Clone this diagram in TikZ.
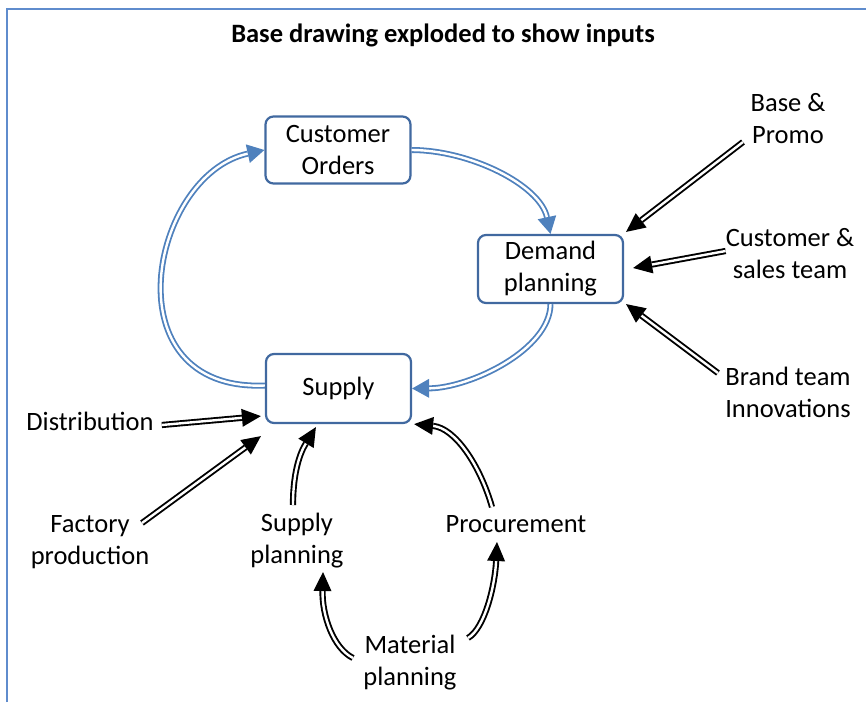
\documentclass[tikz,border=0pt]{standalone}
\usepackage{fontspec}
\setmainfont{Carlito}
\usepackage{tikz}
\usetikzlibrary{arrows.meta}

\definecolor{framecol}{RGB}{95,140,205}
\definecolor{boxcol}{RGB}{65,105,160}
\definecolor{loopcol}{RGB}{79,129,189}

\begin{document}
\begin{tikzpicture}[x=1pt,y=-1pt,
   every node/.style={font=\fontsize{26.5}{32}\selectfont,align=center,inner sep=0pt},
   stage/.style={draw=boxcol,line width=2.2pt,rounded corners=8pt,fill=white,minimum width=145pt},
   loop/.style={draw=loopcol,double=white,line width=1.8pt,double distance=2.4pt,
      -{Triangle[length=17pt,width=19pt,fill=loopcol,line width=0pt]}},
   feed/.style={draw=black,double=white,line width=1.9pt,double distance=2.4pt,
      -{Triangle[length=19pt,width=18pt,fill=black,line width=0pt]}}]

   \useasboundingbox (0,0) rectangle (866,702);
   \draw[framecol,line width=2pt] (7,702) -- (7,9) -- (866,9);

   \node[anchor=base,font=\fontsize{26.5}{32}\selectfont\bfseries] (title) at (443,42) {Base drawing exploded to show inputs};

   % the loop
   \node[stage,minimum height=67pt] (orders) at (338,150) {Customer\\Orders};
   \node[stage,minimum height=68pt] (demand) at (550.5,269) {Demand\\planning};
   \node[stage,minimum height=69pt] (supply) at (338.5,388.5) {Supply};

   \draw[loop] (orders.east) .. controls (470,150) and (540,185) .. (demand.north);
   \draw[loop] (demand.south) .. controls (550,350) and (470,388) .. (supply.east);
   \draw[loop] ([yshift=3pt]supply.west) .. controls (108,392) and (150,175) .. (orders.west);

   % inputs
   \node (promo) at (788,119) {Base \&\\Promo};
   \node (salesteam) at (790,253.5) {Customer \&\\sales team};
   \node (brand) at (788,392.5) {Brand team\\Innovations};
   \node (distrib) at (90,421.5) {Distribution};
   \node (factory) at (90,542.5) {Factory\\production};
   \node (supplyplan) at (297,541) {Supply\\planning};
   \node (procure) at (516,524) {Procurement};
   \node (material) at (410,663) {Material\\planning};

   \draw[feed] ([shift={(-45,23)}]promo.center) -- ([shift={(2,-2)}]demand.north east);
   \draw[feed] ([shift={(0,-2.5)}]salesteam.west) -- ([shift={(9,-1)}]demand.east);
   \draw[feed] ([shift={(-70,-19.5)}]brand.center) -- ([shift={(2,0)}]demand.south east);
   \draw[feed] ([shift={(8,3.5)}]distrib.east) -- ([shift={(-4,-8)}]supply.south west);
   \draw[feed] ([shift={(52,-19.5)}]factory.center) -- ([shift={(-4,12)}]supply.south west);
   \draw[feed] ([shift={(-4,-36)}]supplyplan.center) .. controls (293,462) and (305,445) .. ([shift={(51,3)}]supply.south west);
   \draw[feed] ([shift={(-24,-17)}]procure.center) .. controls (480,465) and (455,428) .. ([shift={(2,0)}]supply.south east);
   \draw[feed] ([shift={(-57,-5)}]material.center) .. controls (333,648) and (322,615) .. ([shift={(26,31)}]supplyplan.center);
   \draw[feed] ([shift={(58,-25)}]material.center) .. controls (485,628) and (495,585) .. ([shift={(-19,18)}]procure.center);

\end{tikzpicture}
\end{document}
